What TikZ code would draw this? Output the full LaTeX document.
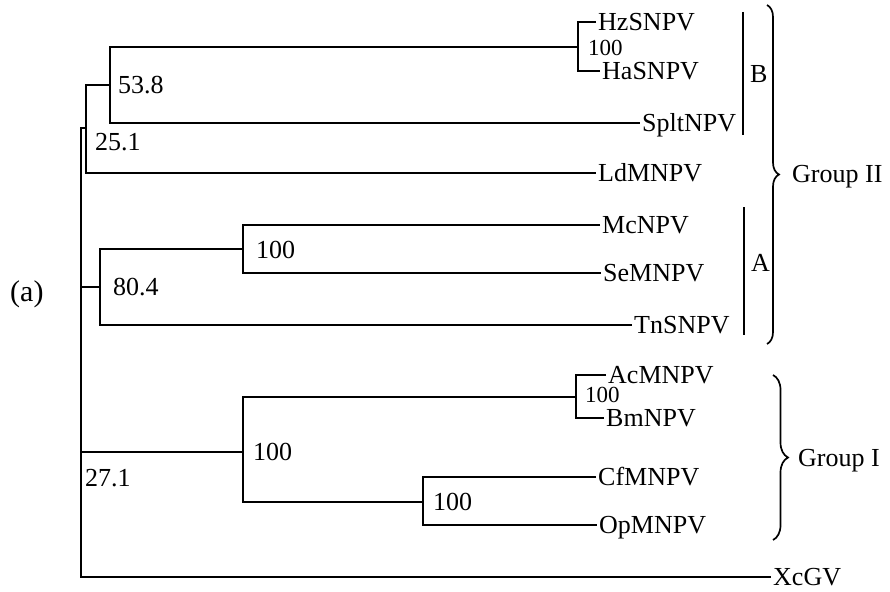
\documentclass[tikz,border=0pt]{standalone}
\usepackage{fontspec}
\setmainfont{Liberation Serif}
\usetikzlibrary{decorations.pathreplacing}
\begin{document}
\begin{tikzpicture}[x=1pt,y=-1pt,
  edge/.style={line width=1.2pt},
  bar/.style={line width=2.4pt},
  brc/.style={line width=1.7pt,decorate,decoration={brace,amplitude=#1}},
  leaf/.style={anchor=west,inner xsep=2pt,inner ysep=0pt,text height=17pt,text depth=0pt,font=\fontsize{26}{31}\selectfont},
  boot/.style={anchor=west,inner sep=0pt,text height=17pt,text depth=0pt,font=\fontsize{26}{31}\selectfont},
  bootsm/.style={anchor=west,inner sep=0pt,text height=15pt,text depth=0pt,font=\fontsize{23}{28}\selectfont},
  grp/.style={anchor=west,inner sep=0pt,text height=17pt,text depth=0pt,font=\fontsize{26}{31}\selectfont}
  ]
\useasboundingbox (0,0) rectangle (890,591);
% internal nodes
\coordinate (root) at (81,350);
\coordinate (n251) at (86,128);
\coordinate (n538) at (110,85);
\coordinate (nHz) at (578,47);
\coordinate (n804) at (100,287);
\coordinate (nA) at (243,249);
\coordinate (nG1) at (243,452);
\coordinate (nAc) at (576,397);
\coordinate (nCf) at (423,502);
% leaves
\node[leaf] (Hz) at (596,22) {HzSNPV};
\node[leaf] (Ha) at (600,71) {HaSNPV};
\node[leaf] (Splt) at (640,123) {SpltNPV};
\node[leaf] (Ld) at (596,173) {LdMNPV};
\node[leaf] (Mc) at (600,225) {McNPV};
\node[leaf] (Se) at (601,273) {SeMNPV};
\node[leaf] (Tn) at (632,325) {TnSNPV};
\node[leaf] (Ac) at (606,375) {AcMNPV};
\node[leaf] (Bm) at (604,418) {BmNPV};
\node[leaf] (Cf) at (596,477) {CfMNPV};
\node[leaf] (Op) at (597,525) {OpMNPV};
\node[leaf] (Xc) at (771,577) {XcGV};
% edges
\draw[edge] (n251) -| (root) |- (Xc.west);
\draw[edge] (n804) -- (n804 -| root);
\draw[edge] (nG1) -- (nG1 -| root);
\draw[edge] (n538) -| (n251) |- (Ld.west);
\draw[edge] (nHz) -| (n538) |- (Splt.west);
\draw[edge] (Hz.west) -| (nHz) |- (Ha.west);
\draw[edge] (nA) -| (n804) |- (Tn.west);
\draw[edge] (Mc.west) -| (nA) |- (Se.west);
\draw[edge] (nAc) -| (nG1) |- (nCf);
\draw[edge] (Ac.west) -| (nAc) |- (Bm.west);
\draw[edge] (Cf.west) -| (nCf) |- (Op.west);
% bootstrap values
\node[boot] (b538) at (118,85) {53.8};
\node[boot] (b251) at (95,142) {25.1};
\node[boot] (b804) at (113,287) {80.4};
\node[boot] (bA) at (256,250) {100};
\node[boot] (bG1) at (253,452) {100};
\node[boot] (b271) at (85,478) {27.1};
\node[boot] (bCf) at (433,502) {100};
\node[bootsm] (bHz) at (588,48) {100};
\node[bootsm] (bAc) at (585,395) {100};
% clade bars and braces
\draw[bar] (743,12) -- (743,135);
\node[grp] (lB) at (750,74) {B};
\draw[bar] (744,207) -- (744,335);
\node[grp] (lA) at (751,263) {A};
\draw[brc=12pt] (767,5) -- (767,344);
\node[grp] (g2) at (792,174) {Group II};
\draw[brc=15pt] (773,375) -- (773,540);
\node[grp] (g1) at (798,458) {Group I};
\node[anchor=west,inner sep=0pt,font=\fontsize{30}{36}\selectfont] (lbl) at (10,294) {(a)};
\end{tikzpicture}
\end{document}
